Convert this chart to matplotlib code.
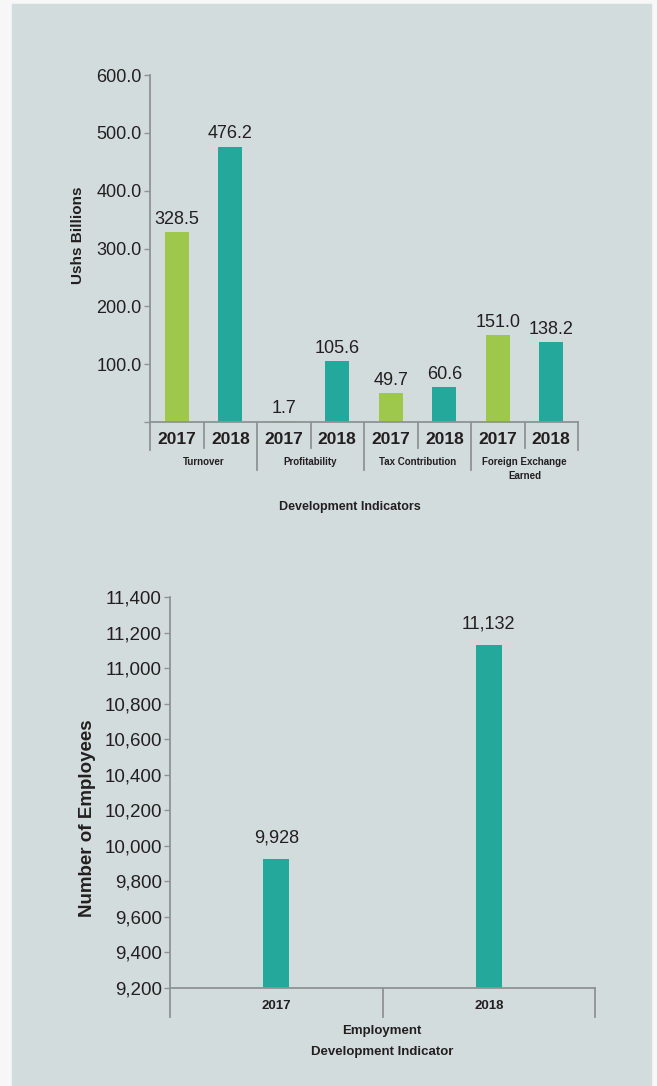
import matplotlib
matplotlib.use("Agg")
import matplotlib.pyplot as plt
from matplotlib.patches import Rectangle
from matplotlib.transforms import blended_transform_factory

plt.rcParams["font.family"] = ["Liberation Sans", "DejaVu Sans"]

# development indicators (Ushs billions)
indicators = ["Turnover", "Profitability", "Tax Contribution", "Foreign Exchange\nEarned"]
years = ["2017", "2018"]
values_2017 = [328.5, 1.7, 49.7, 151.0]
values_2018 = [476.2, 105.6, 60.6, 138.2]
money_ticks = [0, 100, 200, 300, 400, 500, 600]

# employment
emp_years = ["2017", "2018"]
employees = [9928, 11132]
emp_ticks = list(range(9200, 11401, 200))

GREEN = "#9dc84b"
TEAL = "#24a89b"
TEXT = "#231f20"
AXIS = "#8e9394"
BG = "#d3dcdd"

W, H = 657, 1086
fig = plt.figure(figsize=(W / 100, H / 100), dpi=100, facecolor="#f7f7f7")
fig.patches.append(Rectangle((12 / W, 0), (651 - 12) / W, (H - 4) / H,
                             transform=fig.transFigure, color=BG, zorder=-10))


def px_box(left, right, top, bottom):
    return [left / W, (H - bottom) / H, (right - left) / W, (bottom - top) / H]


def style_axes(ax, labelsize):
    ax.set_facecolor("none")
    for s in ("top", "right"):
        ax.spines[s].set_visible(False)
    for s in ("left", "bottom"):
        ax.spines[s].set_color(AXIS)
        ax.spines[s].set_linewidth(1.3)
    ax.tick_params(axis="y", direction="out", length=4, width=1, color=AXIS,
                   labelsize=labelsize, labelcolor=TEXT, pad=2)
    ax.tick_params(axis="x", length=0, labelbottom=False)


def vline(ax, x, depth_px, height_px):
    tr = blended_transform_factory(ax.transData, ax.transAxes)
    ax.plot([x, x], [0, -depth_px / height_px], transform=tr, color=AXIS,
            lw=1.3, clip_on=False)


# ---- top chart: development indicators ----
top_h = 422 - 75
ax1 = fig.add_axes(px_box(150, 578, 75, 422))
style_axes(ax1, 13)

xs_2017 = [2 * i for i in range(len(indicators))]
xs_2018 = [2 * i + 1 for i in range(len(indicators))]
b1 = ax1.bar(xs_2017, values_2017, width=0.45, color=GREEN)
b2 = ax1.bar(xs_2018, values_2018, width=0.45, color=TEAL)
for bars, vals in ((b1, values_2017), (b2, values_2018)):
    for rect, v in zip(bars, vals):
        ax1.annotate(f"{v:.1f}", (rect.get_x() + rect.get_width() / 2, v),
                     xytext=(0, 3), textcoords="offset points",
                     ha="center", va="bottom", fontsize=13, color=TEXT)

ax1.set_xlim(-0.5, 2 * len(indicators) - 0.5)
ax1.set_ylim(0, 600)
ax1.set_yticks(money_ticks)
ax1.set_yticklabels(["" if t == 0 else f"{t:.1f}" for t in money_ticks])

tr1 = blended_transform_factory(ax1.transData, ax1.transAxes)
for i, name in enumerate(indicators):
    for j, yr in enumerate(years):
        ax1.text(2 * i + j, -17 / top_h, yr, transform=tr1, ha="center",
                 va="center", fontsize=12.5, fontweight="bold", color=TEXT)
    ax1.text(2 * i + 0.5, -35 / top_h, name, transform=tr1, ha="center",
             va="top", fontsize=7, fontweight="bold", color=TEXT,
             linespacing=1.5)
    vline(ax1, 2 * i + 0.5, 26, top_h)
for k in range(len(indicators) + 1):
    outer = k in (0, len(indicators))
    vline(ax1, 2 * k - 0.5, 28 if outer else 48, top_h)

fig.text(350 / W, 1 - 507 / H, "Development Indicators", ha="center",
         va="center", fontsize=9, fontweight="bold", color=TEXT)
fig.text(78 / W, 1 - 235 / H, "Ushs Billions", rotation=90, ha="center",
         va="center", fontsize=11, fontweight="bold", color=TEXT)

# ---- bottom chart: employment ----
bot_h = 988 - 597
ax2 = fig.add_axes(px_box(170, 595, 597, 988))
style_axes(ax2, 13.5)

xs = list(range(len(emp_years)))
b3 = ax2.bar(xs, employees, width=0.123, color=TEAL)
for rect, v in zip(b3, employees):
    ax2.annotate(f"{v:,}", (rect.get_x() + rect.get_width() / 2, v),
                 xytext=(0, 9), textcoords="offset points",
                 ha="center", va="bottom", fontsize=13, color=TEXT)

ax2.set_xlim(-0.5, len(emp_years) - 0.5)
ax2.set_ylim(9200, 11400)
ax2.set_yticks(emp_ticks)
ax2.set_yticklabels([f"{t:,}" for t in emp_ticks])

tr2 = blended_transform_factory(ax2.transData, ax2.transAxes)
for i, yr in enumerate(emp_years):
    ax2.text(i, -18 / bot_h, yr, transform=tr2, ha="center", va="center",
             fontsize=9.5, fontweight="bold", color=TEXT)
for k in range(len(emp_years) + 1):
    vline(ax2, k - 0.5, 29, bot_h)

fig.text(382 / W, 1 - 1031 / H, "Employment", ha="center", va="center",
         fontsize=9.5, fontweight="bold", color=TEXT)
fig.text(382 / W, 1 - 1052 / H, "Development Indicator", ha="center",
         va="center", fontsize=9.5, fontweight="bold", color=TEXT)
fig.text(88 / W, 1 - 818 / H, "Number of Employees", rotation=90,
         ha="center", va="center", fontsize=13.5, fontweight="bold", color=TEXT)

fig.savefig("out.png", dpi=100, facecolor=fig.get_facecolor())
